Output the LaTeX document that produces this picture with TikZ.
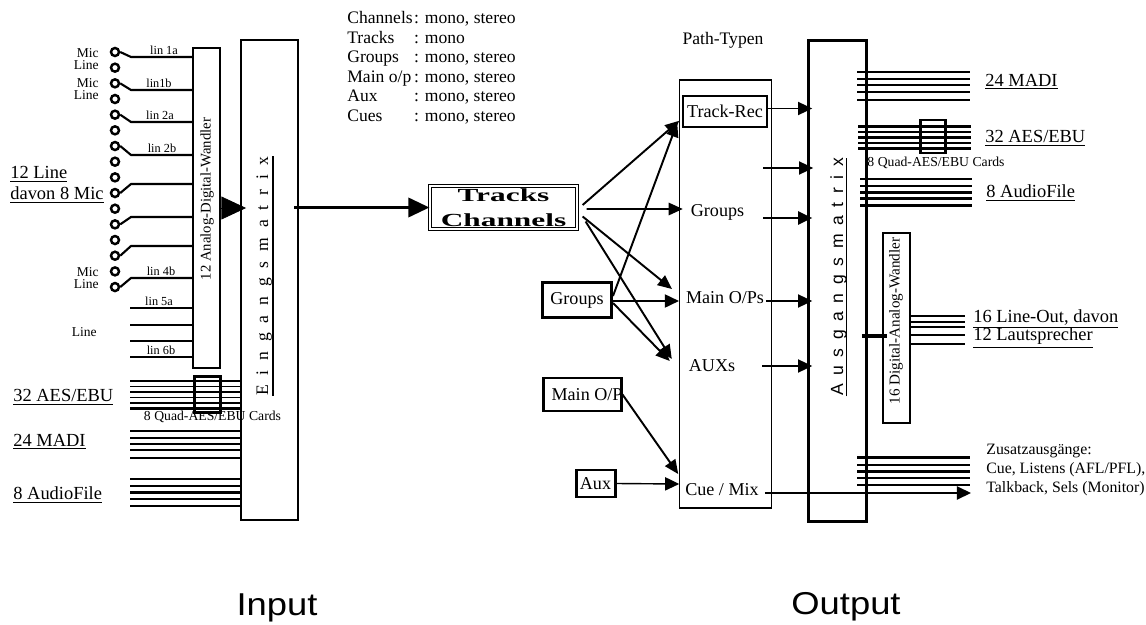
\documentclass[tikz,border=0pt]{standalone}
\usepackage{fontspec}
\setmainfont{Liberation Serif}
\setsansfont{Liberation Sans}
\usepackage{graphicx}
\usetikzlibrary{arrows.meta,calc}
\newcommand\fA{\fontsize{10.5pt}{12pt}\selectfont}
\newcommand\fB{\fontsize{10.3pt}{12pt}\selectfont}
\newcommand\fC{\fontsize{7pt}{8pt}\selectfont}
\newcommand\fM{\fontsize{7.7pt}{7pt}\selectfont}
\newcommand\fN{\fontsize{10pt}{11.05pt}\selectfont}
\newcommand\fQ{\fontsize{7.8pt}{9pt}\selectfont}
\newcommand\fZ{\fontsize{9pt}{10.8pt}\selectfont}
\newcommand\fR{\fontsize{8.4pt}{10pt}\selectfont}
\newcommand\fIO{\sffamily\fontsize{18pt}{20pt}\selectfont}
\newcommand\fT{\fontsize{10.5pt}{14pt}\selectfont\bfseries}
\newcommand\gp{\hspace{5.6pt}}
\newcommand\gq{\hspace{4.9pt}}
\begin{document}
\begin{tikzpicture}[x=0.02cm,y=-0.02cm,
  pxbox/.style 2 args={minimum width=#1*0.02cm,minimum height=#2*0.02cm,inner sep=0pt},
  arr/.style={-{Triangle[length=8pt,width=7.5pt]}},
  fanarr/.style={line width=1.1pt,-{Triangle[length=8pt,width=7pt]}},
  bigarr/.style={line width=1.6pt,-{Triangle[length=12pt,width=11pt]}},
  conn/.style={circle,draw,line width=1.4pt,minimum size=0.16cm,inner sep=0pt},
  lbl/.style={inner sep=0pt,anchor=west},
  linlbl/.style={inner sep=0.6pt,anchor=south,font=\fC},
  thn/.style={line width=0.8pt},
  ptxt/.style={inner sep=1pt,font=\fB}
]
\fill[white] (0,0) rectangle (1146,625);
\useasboundingbox (0,0) rectangle (1146,625);

% ---------------- INPUT side ----------------
\node[pxbox={57}{480},draw,line width=1.5pt] (ein) at (269.5,280) {};
\node[rotate=90,anchor=base,inner sep=0pt,font=\fontsize{10pt}{12pt}\selectfont] (eint) at (268,276)
  {E\gp i\gp n\gp g\gp a\gp n\gp g\gp s\gp m\gp a\gp t\gp r\gp i\gp x};
\draw[line width=0.9pt] ([xshift=0.1cm]eint.base west) -- ([xshift=0.1cm]eint.base east);

\node[pxbox={27}{320},draw,line width=1.2pt] (adc) at (206.5,208) {};
\node[rotate=90,inner sep=0pt,font=\fR] (adct) at (207,199) {12 Analog-Digital-Wandler};
\draw[-{Triangle[length=14pt,width=13pt]}] (adc.east) -- ++(25,0);

% connectors (Mic/Line)
\foreach \i in {0,...,15} \node[conn] (c\i) at (115,{52+15.67*\i}) {};
\foreach \c/\y in {0/57,2/90,4/122,6/155,9/184,11/217,13/246,15/278}
  \draw[line width=1.2pt] (c\c.east) -- (131,\y) -- (adc.west |- 0,\y);
\foreach \y in {308,325,341,357} \draw[line width=1.2pt] (130,\y) -- (adc.west |- 0,\y);

\node[linlbl] (l1a) at (164,56.5) {lin 1a};
\node[linlbl] (l1b) at (159,89.5) {lin1b};
\node[linlbl] (l2a) at (160,121.5) {lin 2a};
\node[linlbl] (l2b) at (162,154.5) {lin 2b};
\node[linlbl] (l4b) at (161,277.5) {lin 4b};
\node[linlbl] (l5a) at (159,307.5) {lin 5a};
\node[linlbl] (l6b) at (161,356.5) {lin 6b};

\node[font=\fM,inner sep=0pt,anchor=east] (m1) at (99,53) {Mic};
\node[font=\fM,inner sep=0pt,anchor=east] (n1) at (99,65) {Line};
\node[font=\fM,inner sep=0pt,anchor=east] (m2) at (99,83) {Mic};
\node[font=\fM,inner sep=0pt,anchor=east] (n2) at (99,95) {Line};
\node[font=\fM,inner sep=0pt,anchor=east] (m3) at (99,272) {Mic};
\node[font=\fM,inner sep=0pt,anchor=east] (n3) at (99,284) {Line};
\node[font=\fM,inner sep=0pt,anchor=east] (n4) at (97,332) {Line};

\node[lbl,font=\fA] (in12) at (10,174) {\underline{12 Line}};
\node[lbl,font=\fA] (in8) at (10,195) {\underline{davon 8 Mic}};
\node[lbl,font=\fA] (inaes) at (13,397) {\underline{32 AES/EBU}};
\node[lbl,font=\fA] (inmadi) at (13,442) {\underline{24 MADI}};
\node[lbl,font=\fA] (inaf) at (13,495) {\underline{8 AudioFile}};

\foreach \y/\w in {381/1.5,386.5/0.9,392/1.3,397.5/0.9,403/1.3,408.5/1.3}
  \draw[line width=\w pt] (130,\y) -- (ein.west |- 0,\y);
\foreach \y/\w in {431/1.4,438/0.9,444/1.3,450/1.1,458/1.4}
  \draw[line width=\w pt] (130,\y) -- (ein.west |- 0,\y);
\foreach \y/\w in {479/1.4,486/0.9,492.5/1.3,499/1.1,506/1.4}
  \draw[line width=\w pt] (130,\y) -- (ein.west |- 0,\y);
\node[pxbox={26}{36},draw,line width=1.5pt] (cardin) at (207.5,394.5) {};
\node[font=\fQ,inner sep=0pt] (cardint) at (212.5,417) {8 Quad-AES/EBU Cards};

% notes
\node[anchor=north west,inner sep=0pt,font=\fN] (notes) at (347,10)
{\begin{tabular}{@{}l@{}l@{}}
Channels&: mono, stereo\\
Tracks&: mono\\
Groups&: mono, stereo\\
Main o/p\,&: mono, stereo\\
Aux&: mono, stereo\\
Cues&: mono, stereo
\end{tabular}};

% Tracks / Channels
\node[pxbox={147}{43},draw,double,double distance=1.3pt,line width=0.7pt,align=center,font=\fT] (tc) at (503.5,207.5)
  {\scalebox{1.7}[1]{Tracks}\\\scalebox{1.7}[1]{Channels}};
\draw[bigarr] ($(ein.east |- tc.west)+(-5,0)$) -- (tc.west);

% ---------------- Path-Typen ----------------
\node[font=\fN,inner sep=0pt] (pt) at (723,40) {Path-Typen};
\node[pxbox={92}{428},draw,line width=0.8pt] (pathbox) at (725.5,294) {};
\node[pxbox={84}{31},draw,line width=0.9pt,font=\fB] (trackrec) at (725,111.5) {Track-Rec};
\node[ptxt] (groupst) at (717.5,212) {Groups};
\node[ptxt] (mainops) at (725,298) {Main O/Ps};
\node[ptxt] (auxs) at (712,366) {AUXs};
\node[ptxt] (cuemix) at (722,490) {Cue / Mix};

\node[pxbox={69}{35},draw,line width=1.7pt,font=\fB] (grp) at (577,300) {Groups};
\node[pxbox={78}{33},draw,line width=1.7pt,font=\fB] (mop) at (582,394.5) {Main O/\rlap{P}};
\node[pxbox={39}{27},draw,line width=1.7pt,font=\fB] (aux) at (595.5,483.5) {Aux};

% fan from Tracks/Channels
\draw[fanarr] ($(tc.east)+(5,-2.5)$) -- ($(trackrec.south west)+(-3,-7)$);
\draw[fanarr] ($(tc.east)+(9,1.5)$) -- ($(groupst.west)+(-6,-3)$);
\draw[fanarr] ($(tc.east)+(5,9)$) -- ($(mainops.west)+(-12,-9)$);
\draw[fanarr] ($(tc.east)+(8,14)$) -- ($(auxs.west)+(-15,-7)$);
% from Groups
\draw[fanarr] ($(grp.east)+(0,-4)$) -- ($(trackrec.south west)+(-5,-5)$);
\draw[arr,thn] ($(grp.east)+(0,1)$) -- ($(mainops.west)+(-5,3)$);
\draw[fanarr] ($(grp.east)+(0,3)$) -- ($(auxs.west)+(-17,-5)$);
% from Main O/P and Aux
\draw[fanarr] (mop.east) -- ($(cuemix.west)+(-5,-16)$);
\draw[arr,thn] (aux.east) -- ($(cuemix.west)+(-4,-6)$);

% ---------------- OUTPUT side ----------------
\node[pxbox={58}{481},draw,line width=1.6pt] (aus) at (837.5,281) {};
\node[rotate=90,anchor=base,inner sep=0pt,font=\sffamily\fontsize{10pt}{12pt}\selectfont] (aust) at (843,277)
  {A\gq u\gq s\gq g\gq a\gq n\gq g\gq s\gq m\gq a\gq t\gq r\gq i\gq x};
\draw[line width=0.9pt] ([xshift=0.07cm]aust.base west) -- ([xshift=0.07cm]aust.base east);

\coordinate (p1) at (763,168);
\coordinate (p2) at (763,218);
\draw[arr,thn] ($(trackrec.east)+(0,-3)$) -- ($(aus.west |- trackrec.east)+(5,-3)$);
\draw[arr,thn] (p1) -- ($(aus.west |- p1)+(6,0)$);
\draw[arr,line width=1.1pt] (p2) -- ($(aus.west |- p2)+(5,0)$);
\draw[arr,thn] ($(mainops.east)+(0,3)$) -- ($(aus.west |- mainops.east)+(5,3)$);
\draw[arr,thn] ($(auxs.east)+(25,0)$) -- ($(aus.west |- auxs.east)+(5,0)$);
\coordinate (zend) at (971,493);
\draw[arr,thn] ($(cuemix.east)+(4,3)$) -- (zend);

\foreach \y/\w in {72/1.5,79/0.9,85/1.3,92/1.3,100/1.4}
  \draw[line width=\w pt] (857,\y) -- (970,\y);
\foreach \y/\w in {126.5/1.5,132/0.9,137.5/1.3,143/1.3,148.5/1.3}
  \draw[line width=\w pt] (858,\y) -- (971,\y);
\foreach \y/\w in {179/1.4,186/0.9,192.5/1.3,198.5/1.3,205.5/1.4}
  \draw[line width=\w pt] (860,\y) -- (972,\y);
\foreach \y/\w in {457.5/1.5,465/0.9,471.5/1.3,478/1.3,485/1.4}
  \draw[line width=\w pt] (857,\y) -- (970,\y);
\node[pxbox={25}{33},draw,line width=1.7pt] (cardout) at (933,136.5) {};
\node[font=\fQ,inner sep=0pt] (cardoutt) at (936,163) {8 Quad-AES/EBU Cards};

\node[lbl,font=\fA] (outmadi) at (985,82) {\underline{24 MADI}};
\node[lbl,font=\fA] (outaes) at (985,138) {\underline{32 AES/EBU}};
\node[lbl,font=\fA] (outaf) at (986,193) {\underline{8 AudioFile}};

\node[pxbox={27}{190},draw,line width=1.2pt] (dac) at (896.5,328) {};
\node[rotate=90,inner sep=0pt,font=\fontsize{8.6pt}{10pt}\selectfont] (dact) at (896,321) {16 Digital-Analog-Wandler};
\draw[line width=2.8pt] ($(aus.east)+(-6,55)$) -- ($(dac.west)+(5,8)$);
\foreach \y/\w in {316/1.5,322/0.9,327/0.9,335/1.4,344/1.4}
  \draw[line width=\w pt] ($(dac.east |- 0,\y)+(-2,0)$) -- (965,\y);
\node[lbl,font=\fA] (lo1) at (973,319) {\underline{16 Line-Out, davon}};
\node[lbl,font=\fA] (lo2) at (973,338) {\underline{12 Lautsprecher}};

\node[lbl,font=\fZ,align=left] (zus) at (986,470)
  {Zusatzausgänge:\\Cue, Listens (AFL/PFL),\\Talkback, Sels (Monitor)};

\node[font=\fIO,inner sep=0pt] (inp) at (277,608) {\scalebox{1.15}[1]{Input}};
\node[font=\fIO,inner sep=0pt] (outp) at (846,607) {\scalebox{1.15}[1]{Output}};
\end{tikzpicture}
\end{document}
